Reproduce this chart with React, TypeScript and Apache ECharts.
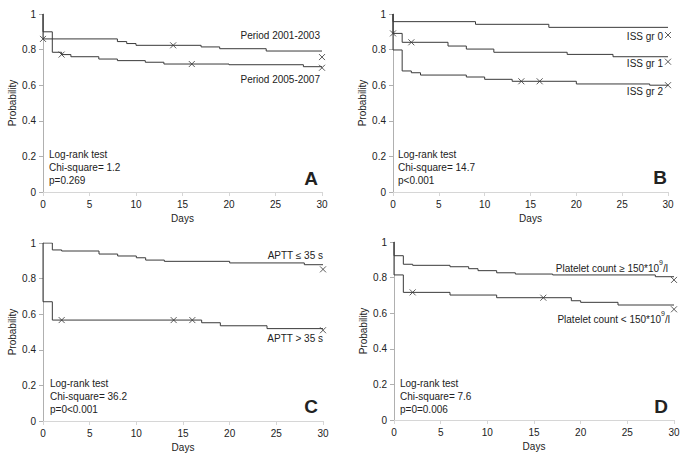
import React, { useEffect, useRef } from "react";
import * as echarts from "echarts";

// ---------- Data ----------
// Panel A: period
const aP1Days = [0, 0, 8, 9, 10, 17, 19, 24, 30];
const aP1Surv = [1, 0.86, 0.845, 0.834, 0.824, 0.815, 0.805, 0.792, 0.792];
const aP1CensDays = [0, 14, 30];
const aP1CensSurv = [0.86, 0.824, 0.758];
const aP2Days = [0, 0, 1, 2, 3, 6, 8, 11, 13, 20, 28, 30];
const aP2Surv = [1, 0.9, 0.785, 0.772, 0.76, 0.747, 0.738, 0.729, 0.719, 0.715, 0.704, 0.704];
const aP2CensDays = [2, 16, 30];
const aP2CensSurv = [0.772, 0.719, 0.698];

// Panel B: ISS group
const bG0Days = [0, 0, 9, 17, 30];
const bG0Surv = [1, 0.957, 0.942, 0.925, 0.925];
const bG0CensDays = [30];
const bG0CensSurv = [0.882];
const bG1Days = [0, 0, 1, 6, 8, 11, 19, 24, 30];
const bG1Surv = [1, 0.891, 0.841, 0.82, 0.803, 0.785, 0.773, 0.76, 0.76];
const bG1CensDays = [0, 2, 30];
const bG1CensSurv = [0.891, 0.841, 0.732];
const bG2Days = [0, 0, 1, 2, 3, 8, 10, 13, 20, 28, 30];
const bG2Surv = [1, 0.798, 0.68, 0.67, 0.657, 0.646, 0.633, 0.622, 0.607, 0.6, 0.6];
const bG2CensDays = [14, 16, 30];
const bG2CensSurv = [0.622, 0.622, 0.6];

// Panel C: APTT
const cLowDays = [0, 1, 2, 6, 8, 10, 11, 13, 20, 28, 30];
const cLowSurv = [1, 0.961, 0.955, 0.938, 0.927, 0.917, 0.904, 0.897, 0.888, 0.878, 0.878];
const cLowCensDays = [30];
const cLowCensSurv = [0.852];
const cHighDays = [0, 0, 1, 17, 19, 24, 30];
const cHighSurv = [1, 0.67, 0.567, 0.552, 0.535, 0.519, 0.519];
const cHighCensDays = [2, 14, 16, 30];
const cHighCensSurv = [0.567, 0.567, 0.567, 0.51];

// Panel D: platelet count
const dHighDays = [0, 0, 1, 2, 6, 8, 9, 11, 13, 17, 28, 30];
const dHighSurv = [1, 0.923, 0.875, 0.869, 0.861, 0.85, 0.839, 0.827, 0.82, 0.815, 0.805, 0.805];
const dHighCensDays = [30];
const dHighCensSurv = [0.787];
const dLowDays = [0, 0, 1, 6, 11, 19, 20, 24, 30];
const dLowSurv = [1, 0.815, 0.717, 0.702, 0.687, 0.67, 0.661, 0.646, 0.646];
const dLowCensDays = [2, 16, 30];
const dLowCensSurv = [0.717, 0.687, 0.622];

const curveNames = {
  a1: "Period 2001-2003",
  a2: "Period 2005-2007",
  b0: "ISS gr 0",
  b1: "ISS gr 1",
  b2: "ISS gr 2",
  c1: "APTT ≤ 35 s",
  c2: "APTT > 35 s",
  d1: ["Platelet count ≥ 150*10", "9", "/l"],
  d2: ["Platelet count < 150*10", "9", "/l"],
};

const statLines = [
  ["Log-rank test", "Chi-square= 1.2", "p=0.269"],
  ["Log-rank test", "Chi-square= 14.7", "p<0.001"],
  ["Log-rank test", "Chi-square= 36.2", "p=0<0.001"],
  ["Log-rank test", "Chi-square= 7.6", "p=0=0.006"],
];
const panelLetters = ["A", "B", "C", "D"];

// ---------- Styling ----------
const FONT = '"Liberation Sans", Arial, sans-serif';
const TXT = "#222";
const LINE = "#3a3a3a";
const CROSS = "path://M0,0L10,10M0,10L10,0";

const zip = (d: number[], s: number[]) => d.map((x, i) => [x, s[i]]);

const grids = [
  { left: 43, top: 14, width: 279, height: 178 },
  { left: 393, top: 14, width: 275, height: 178 },
  { left: 43, top: 243, width: 280, height: 178 },
  { left: 394, top: 242, width: 280, height: 178 },
];

function stepSeries(g: number, d: number[], s: number[]) {
  return {
    type: "line",
    xAxisIndex: g,
    yAxisIndex: g,
    step: "end",
    data: zip(d, s),
    symbol: "none",
    lineStyle: { color: LINE, width: 1 },
    silent: true,
  };
}
function censSeries(g: number, d: number[], s: number[]) {
  return {
    type: "scatter",
    xAxisIndex: g,
    yAxisIndex: g,
    data: zip(d, s),
    symbol: CROSS,
    symbolSize: 6,
    itemStyle: { color: "none", borderColor: "#333", borderWidth: 1 },
    silent: true,
  };
}

export default function App() {
  const ref = useRef<HTMLDivElement>(null);
  useEffect(() => {
    if (!ref.current) return;
    const chart = echarts.init(ref.current, undefined, { renderer: "svg" });

    const xAxes = grids.map((_, i) => ({
      type: "value",
      gridIndex: i,
      min: 0,
      max: 30,
      interval: 5,
      name: "Days",
      nameLocation: "middle",
      nameGap: 21,
      nameTextStyle: { fontFamily: FONT, fontSize: 10, color: TXT },
      axisLine: { show: true, onZero: false, lineStyle: { color: "#d6d6d6", width: 1 } },
      axisTick: { show: true, length: 4, lineStyle: { color: "#d6d6d6" } },
      axisLabel: { fontFamily: FONT, fontSize: 10, color: TXT, margin: 7 },
      splitLine: { show: false },
    }));
    const yAxes = grids.map((_, i) => ({
      type: "value",
      gridIndex: i,
      min: 0,
      max: 1,
      interval: 0.2,
      name: "Probability",
      nameLocation: "middle",
      nameGap: 26,
      nameTextStyle: { fontFamily: FONT, fontSize: 10, color: TXT },
      axisLine: { show: true, lineStyle: { color: "#b0b0b0", width: 1 } },
      axisTick: { show: true, length: 4, lineStyle: { color: "#b0b0b0" } },
      axisLabel: {
        fontFamily: FONT,
        fontSize: 10,
        color: TXT,
        margin: 7,
        formatter: (v: number) => String(Math.round(v * 10) / 10),
      },
      splitLine: { show: false },
    }));

    const series = [
      stepSeries(0, aP1Days, aP1Surv),
      stepSeries(0, aP2Days, aP2Surv),
      censSeries(0, aP1CensDays, aP1CensSurv),
      censSeries(0, aP2CensDays, aP2CensSurv),
      stepSeries(1, bG0Days, bG0Surv),
      stepSeries(1, bG1Days, bG1Surv),
      stepSeries(1, bG2Days, bG2Surv),
      censSeries(1, bG0CensDays, bG0CensSurv),
      censSeries(1, bG1CensDays, bG1CensSurv),
      censSeries(1, bG2CensDays, bG2CensSurv),
      stepSeries(2, cLowDays, cLowSurv),
      stepSeries(2, cHighDays, cHighSurv),
      censSeries(2, cLowCensDays, cLowCensSurv),
      censSeries(2, cHighCensDays, cHighCensSurv),
      stepSeries(3, dHighDays, dHighSurv),
      stepSeries(3, dLowDays, dLowSurv),
      censSeries(3, dHighCensDays, dHighCensSurv),
      censSeries(3, dLowCensDays, dLowCensSurv),
    ];

    const txt = (text: string, x: number, y: number, align = "left", size = 10, bold = false) => ({
      type: "text",
      x,
      y,
      silent: true,
      style: {
        text,
        fill: TXT,
        font: `${bold ? "bold " : ""}${size}px ${FONT}`,
        textAlign: align,
        verticalAlign: "middle",
      },
    });
    const supTxt = (parts: string[], x: number, y: number) => ({
      type: "text",
      x,
      y,
      silent: true,
      style: {
        text: `{n|${parts[0]}}{s|${parts[1]}}{n|${parts[2]}}`,
        textAlign: "right",
        verticalAlign: "middle",
        rich: {
          n: { fontFamily: FONT, fontSize: 10, fill: TXT, lineHeight: 14, verticalAlign: "bottom" },
          s: { fontFamily: FONT, fontSize: 7, fill: TXT, lineHeight: 14, verticalAlign: "top" },
        },
      },
    });

    const statPos = [
      [49, 154],
      [398, 154],
      [50, 383],
      [400, 383],
    ];
    const letterPos = [
      [318, 178],
      [667, 177],
      [318, 406],
      [668, 406],
    ];
    const graphics: any[] = [
      txt(curveNames.a1, 320, 35, "right"),
      txt(curveNames.a2, 320, 79, "right"),
      txt(curveNames.b0, 663, 36, "right"),
      txt(curveNames.b1, 663, 63, "right"),
      txt(curveNames.b2, 663, 91, "right"),
      txt(curveNames.c1, 323, 255, "right"),
      txt(curveNames.c2, 323, 338, "right"),
      supTxt(curveNames.d1, 668, 266),
      supTxt(curveNames.d2, 670, 317),
    ];
    statLines.forEach((lines, i) => {
      lines.forEach((l, j) => graphics.push(txt(l, statPos[i][0], statPos[i][1] + j * 13.3)));
      graphics.push(txt(panelLetters[i], letterPos[i][0], letterPos[i][1], "right", 19, true));
    });

    chart.setOption({
      animation: false,
      backgroundColor: "#fff",
      grid: grids.map((g) => ({ ...g, show: false, containLabel: false, outerBoundsMode: "none" })),
      xAxis: xAxes,
      yAxis: yAxes,
      series,
      graphic: graphics,
    });
    return () => chart.dispose();
  }, []);
  return (
    <div
      ref={ref}
      style={{ position: "absolute", left: 0, top: 0, width: 685, height: 462, background: "#fff" }}
    />
  );
}
